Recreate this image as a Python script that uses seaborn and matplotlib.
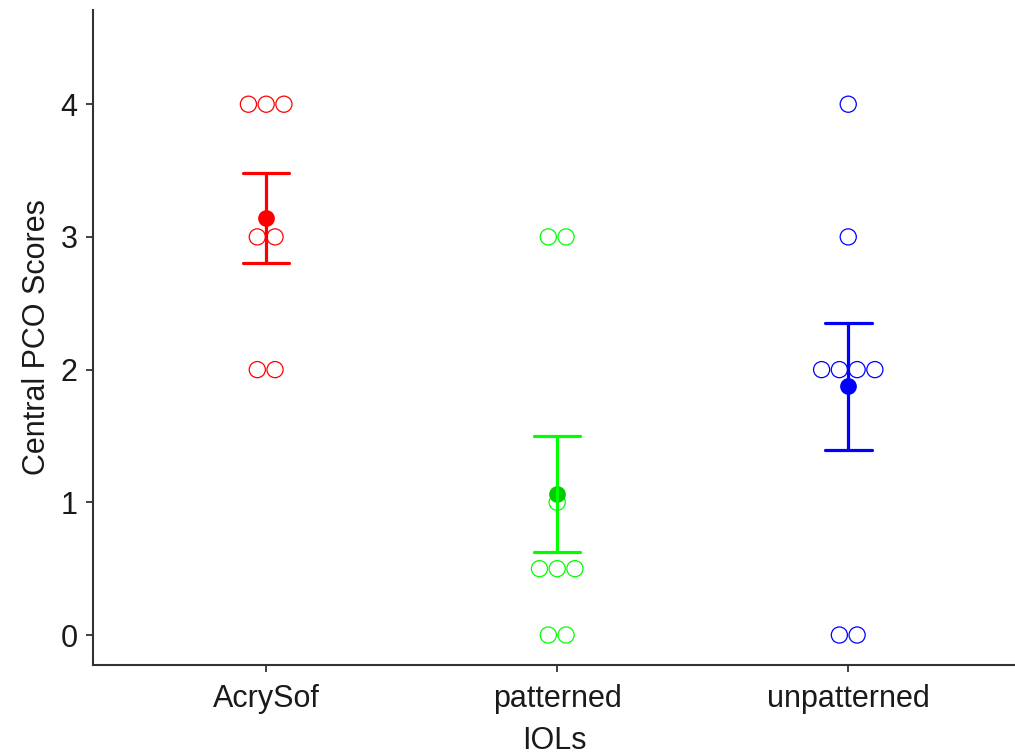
import numpy as np
import pandas as pd
import matplotlib
matplotlib.use('Agg')
import matplotlib.pyplot as plt
import seaborn as sns

# Datos (puntajes PCO central por tipo de LIO)
grupos = ['AcrySof', 'patterned', 'unpatterned']
acrysof = [4, 4, 4, 3, 3, 2, 2]
patterned = [3, 3, 1, 0.5, 0.5, 0.5, 0, 0]
unpatterned = [4, 3, 2, 2, 2, 2, 0, 0]
colores = ['#FF0000', '#00FF00', '#0000FF']
colores_media = ['#FF0000', '#00CC00', '#0000FF']

df = pd.DataFrame({
    'IOLs': ['AcrySof'] * len(acrysof) + ['patterned'] * len(patterned) + ['unpatterned'] * len(unpatterned),
    'score': acrysof + patterned + unpatterned,
})

# posicion tipo dotplot: puntos con el mismo valor uno al lado del otro
ancho = 0.061
pos = []
for i, g in enumerate(grupos):
    sub = df[df['IOLs'] == g]
    for v, n in sub.groupby('score').size().items():
        for k in range(n):
            pos.append((g, v, i + (k - (n - 1) / 2) * ancho))
df_pos = pd.DataFrame(pos, columns=['IOLs', 'score', 'x'])

sns.set_style('white')
plt.rcParams['font.family'] = ['Liberation Sans', 'DejaVu Sans']

fig = plt.figure(figsize=(10.15, 7.53), dpi=100)
ax = fig.add_axes([93 / 1015, 1 - 665 / 753, (1015 - 93) / 1015, (665 - 10) / 753])

# media +- error estandar
sns.pointplot(data=df, x='IOLs', y='score', hue='IOLs', order=grupos, hue_order=grupos,
              palette=colores_media, errorbar='se', capsize=0.16, linestyle='none',
              markersize=10, err_kws={'linewidth': 2.3}, legend=False, ax=ax)

for i, g in enumerate(grupos):
    sub = df_pos[df_pos['IOLs'] == g]
    sns.scatterplot(x=sub['x'], y=sub['score'], s=135, facecolors='none',
                    edgecolor=colores[i], linewidth=0.9, ax=ax, zorder=1)

# barras de error verdes en el tono puro
for line in ax.lines:
    if matplotlib.colors.to_hex(line.get_color()).upper() == '#00CC00' and line.get_marker() in ('None', None, ''):
        line.set_color('#00FF00')

ax.set_xlim(-0.595, 2.573)
ax.set_ylim(-0.226, 4.71)
ax.set_xticks([0, 1, 2])
ax.set_xticklabels(grupos)
ax.set_yticks([0, 1, 2, 3, 4])
ax.tick_params(axis='both', direction='out', length=5, width=1.3, color='#333333',
               labelsize=22, labelcolor='#1a1a1a', left=True, bottom=True)
ax.tick_params(axis='x', pad=9)
ax.tick_params(axis='y', pad=6)
ax.set_xlabel('IOLs', fontsize=22, color='#1a1a1a', labelpad=8)
ax.set_ylabel('Central PCO Scores', fontsize=22, color='#1a1a1a', labelpad=6)
sns.despine(ax=ax)
for s in ['left', 'bottom']:
    ax.spines[s].set_color('#333333')
    ax.spines[s].set_linewidth(1.5)

fig.savefig('out.png', dpi=100)
